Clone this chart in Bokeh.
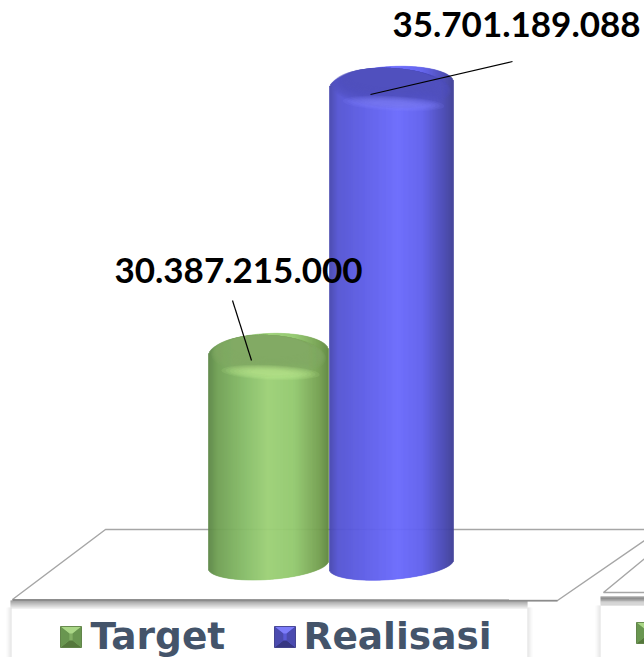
import math
from bokeh.plotting import figure
from bokeh.models import Range1d
from bokeh.core.properties import value
from bokeh.embed import file_html
from bokeh.resources import INLINE

# ---- data
categories = ["Target", "Realisasi"]
values = [30387215000, 35701189088]
labels = ["30.387.215.000", "35.701.189.088"]

# ---- layout (picture pixels)
W, H = 644, 657
BASE_VALUE = 26183000000
PER_PX = 19830000
Y_TOP = BASE_VALUE + 565 * PER_PX
Y_BOT = BASE_VALUE - (H - 565) * PER_PX

p = figure(width=W, height=H, output_backend="svg", toolbar_location=None,
           x_range=Range1d(0, W), y_range=Range1d(Y_BOT, Y_TOP),
           min_border=0, outline_line_color=None, background_fill_color="white")
p.axis.visible = False
p.grid.visible = False
p.extra_y_ranges = {"px": Range1d(H, 0)}
TEXT_SHIFT = 13


def lerp(a, b, t):
    return tuple(a[i] + (b[i] - a[i]) * t for i in range(3))


def rgb(c):
    return "#%02x%02x%02x" % tuple(int(round(max(0, min(255, v)))) for v in c)


def shade(stops, t):
    for (t0, c0), (t1, c1) in zip(stops, stops[1:]):
        if t <= t1:
            return lerp(c0, c1, (t - t0) / (t1 - t0))
    return stops[-1][1]


def val_of_px(py):
    return BASE_VALUE + (565 - py) * PER_PX


STYLES = {
    "Target": dict(cx=268, hw=60, tilt=-2.5, ry=20, base=564,
                   stops=[(0, (92, 134, 70)), (.08, (112, 160, 84)), (.3, (134, 188, 104)),
                          (.5, (156, 208, 118)), (.72, (146, 200, 110)), (.92, (116, 160, 80)), (1, (96, 136, 64))],
                   cap=(130, 170, 98), rim=(190, 240, 146)),
    "Realisasi": dict(cx=391, hw=62, tilt=-3, ry=19, base=564,
                      stops=[(0, (70, 70, 172)), (.07, (84, 84, 210)), (.3, (94, 94, 232)),
                             (.55, (106, 106, 252)), (.75, (96, 96, 236)), (.92, (72, 72, 180)), (1, (62, 62, 150))],
                      cap=(80, 80, 190), rim=(130, 130, 255)),
}

# floor, second panel and legend panels (drawn first)
for i in range(8):
    g = 130 + i * 14
    p.quad(left=[10], right=[527], top=[600 + i], bottom=[601 + i], y_range_name="px",
           fill_color=rgb((g, g, g)), line_color=None)
    p.quad(left=[600], right=[644], top=[596 + i * 1.2], bottom=[597.2 + i * 1.2], y_range_name="px",
           fill_color=rgb((g, g, g)), line_color=None)
for i in range(5):
    g = 222 + i * 7
    p.quad(left=[527 + i], right=[528 + i], top=[607], bottom=[657], y_range_name="px",
           fill_color=rgb((g, g, g)), line_color=None)
    p.quad(left=[10 - i], right=[11 - i], top=[607], bottom=[657], y_range_name="px",
           fill_color=rgb((g, g, g)), line_color=None)
    p.quad(left=[599 - i], right=[600 - i], top=[605], bottom=[657], y_range_name="px",
           fill_color=rgb((g, g, g)), line_color=None)

p.patch([12, 105, 660, 557], [599, 529, 529, 600], y_range_name="px", fill_color="white",
        line_color="#a6a6a6", line_width=1.5)
p.patch([603, 660, 660], [592, 545, 592], y_range_name="px", fill_color="white",
        line_color="#a6a6a6", line_width=1.5)
p.line([12, 557], [599.5, 600], y_range_name="px", line_color="#8c8c8c", line_width=2)

# cylinders
for cat, val in zip(categories, values):
    s = STYLES[cat]
    cx, hw, tilt, ry, base = s["cx"], s["hw"], s["tilt"], s["ry"], s["base"]
    cy = 565 - (val - BASE_VALUE) / PER_PX  # centre of top ellipse in picture pixels
    l, r, t, b, colors = [], [], [], [], []
    for k in range(2 * hw):
        u = (k + .5 - hw) / hw
        h = math.sqrt(max(0, 1 - u * u))
        l.append(cx - hw + k)
        r.append(cx - hw + k + 1)
        t.append(val + (ry * h - tilt * u) * PER_PX)
        b.append(val_of_px(base + 15 * h + tilt * 1.6 * u))
        colors.append(rgb(shade(s["stops"], (u + 1) / 2)))
    p.quad(left=l, right=r, top=t, bottom=b, fill_color=colors, line_color=colors, line_width=.6)
    # top face: translucent ellipses sharing their upper edge, shrinking inwards
    ang = -math.radians(abs(tilt))
    N = 18
    for k in range(N):
        f = k / (N - 1)
        hgt = 2 * ry + 2 - 20 * f
        wid = 2 * hw - 5 - 34 * f
        top_edge = cy - ry + 1.5
        p.ellipse(x=[cx], y=[top_edge + hgt / 2], width=[wid], height=[hgt], angle=[ang], y_range_name="px",
                  fill_color=rgb(s["cap"]), fill_alpha=.2, line_color=None)
    # soft highlight just under the top face
    for k in range(8):
        p.ellipse(x=[cx + 2], y=[cy + ry - 1], width=[2 * hw * (.82 - .07 * k)], height=[15 - 1.5 * k], angle=[ang],
                  y_range_name="px", fill_color=rgb(s["rim"]), fill_alpha=.13, line_color=None)

# leader lines
p.line([232, 251], [300, 360], y_range_name="px", line_color="black", line_width=1.2)
p.line([512, 370], [61, 94], y_range_name="px", line_color="black", line_width=1.2)

# value labels
LAB = {"Target": (238, 283), "Realisasi": (516, 37)}
for cat, txt in zip(categories, labels):
    x, y = LAB[cat]
    p.text(x=[x], y=[y - TEXT_SHIFT], text=[txt], y_range_name="px", text_font=value("Lato"), text_font_style="bold",
           text_font_size="35px", text_color="black", text_align="center", text_baseline="alphabetic")


# legend
def marker(x, y, sz, mid, light, dark, side):
    p.quad(left=[x], right=[x + sz], top=[y], bottom=[y + sz], y_range_name="px", fill_color=rgb(mid), line_color=None)
    q = sz * .42
    X0, X1, A0, A1 = x, x + sz, x + q, x + sz - q
    Y0, Y1, B0, B1 = y, y + sz, y + q * .8, y + sz - q * .8
    p.patch([X0, X1, A1, A0], [Y0, Y0, B0, B0], y_range_name="px", fill_color=rgb(light), line_color=None)
    p.patch([X0, X1, A1, A0], [Y1, Y1, B1, B1], y_range_name="px", fill_color=rgb(dark), line_color=None)
    p.patch([X0, A0, A0, X0], [Y0, B0, B1, Y1], y_range_name="px", fill_color=rgb(side), line_color=None)
    p.patch([X1, A1, A1, X1], [Y0, B0, B1, Y1], y_range_name="px", fill_color=rgb(side), line_color=None)
    p.quad(left=[x], right=[x + sz], top=[y], bottom=[y + sz], y_range_name="px", fill_color=None,
           line_color=rgb(dark), line_width=.8)


GREEN = ((130, 175, 100), (170, 215, 135), (85, 120, 60), (105, 150, 80))
BLUE = ((90, 90, 215), (125, 125, 250), (55, 55, 130), (75, 75, 175))
marker(60, 626, 21, *GREEN)
marker(274, 626, 21, *BLUE)
marker(636, 622, 21, *GREEN)
p.text(x=[90], y=[648 - TEXT_SHIFT], text=[categories[0]], y_range_name="px", text_font=value("DejaVu Sans"),
       text_font_style="bold", text_font_size="37.5px", text_color="#44546a", text_baseline="alphabetic")
p.text(x=[303], y=[648 - TEXT_SHIFT], text=[categories[1]], y_range_name="px", text_font=value("DejaVu Sans"),
       text_font_style="bold", text_font_size="37.5px", text_color="#44546a", text_baseline="alphabetic")

open("out.html", "w").write(file_html(p, INLINE))
